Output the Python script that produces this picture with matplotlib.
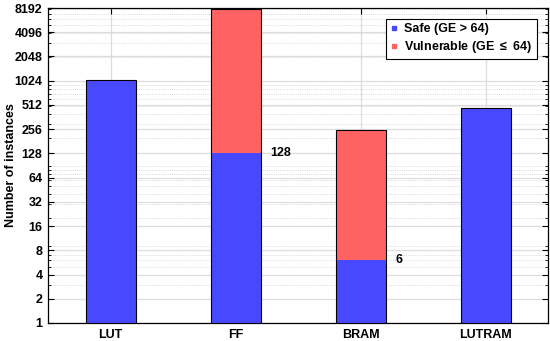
import matplotlib.pyplot as plt
from matplotlib.ticker import FixedLocator, LogLocator, NullFormatter
from matplotlib.lines import Line2D

plt.rcParams['font.family'] = ['Liberation Sans', 'DejaVu Sans']
plt.rcParams['font.weight'] = 'bold'
plt.rcParams['mathtext.fontset'] = 'custom'
plt.rcParams['mathtext.rm'] = 'Liberation Sans:bold'

cats = ['LUT', 'FF', 'BRAM', 'LUTRAM']
safe = [1056, 128, 6, 470]
vuln = [0, 7900, 244, 0]
notes = {1: '128', 2: '6'}

blue = '#4848FF'
red = '#FF6262'

fig = plt.figure(figsize=(5.5, 3.41), dpi=100)
ax = fig.add_axes([0.0873, 0.0528, 0.9091, 0.9237])

x = list(range(1, len(cats) + 1))
# safe part (blue) drawn from 1 upward, vulnerable part stacked on top
ax.bar(x, [s - 1 for s in safe], width=0.4, bottom=1, color=blue, edgecolor='none', zorder=3)
ax.bar(x, vuln, width=0.4, bottom=safe, color=red, edgecolor='none', zorder=3)
# outline of the whole stack
ax.bar(x, [s + v - 1 for s, v in zip(safe, vuln)], width=0.4, bottom=1, color='none',
       edgecolor='black', linewidth=0.8, zorder=4)

for i, t in notes.items():
    ax.text(x[i] + 0.28, safe[i], t, fontsize=9, fontweight='bold', va='center', ha='left')

ax.set_yscale('log', base=2)
ax.set_ylim(1, 8192)
ax.set_xlim(0.5, 4.5)
ax.yaxis.set_major_locator(FixedLocator([2 ** k for k in range(14)]))
ax.set_yticklabels([str(2 ** k) for k in range(14)])
ax.yaxis.set_minor_locator(LogLocator(base=10, subs=range(2, 10), numticks=20))
ax.yaxis.set_minor_formatter(NullFormatter())
ax.set_xticks(x)
ax.set_xticklabels(cats)

ax.grid(True, which='major', color='#dddddd', linewidth=0.9, zorder=0)
ax.grid(True, which='minor', axis='y', color='#cccccc', linestyle=':', linewidth=0.6, zorder=0)
ax.set_axisbelow(True)

ax.tick_params(which='both', direction='in', top=True, right=True, labelsize=9, pad=4)
ax.tick_params(which='major', length=4)
ax.tick_params(which='minor', length=2)
for s in ax.spines.values():
    s.set_linewidth(0.9)

ax.set_ylabel('Number of instances', fontsize=9, fontweight='bold')
ax.yaxis.set_label_coords(-0.062, 0.5)

handles = [Line2D([], [], marker='s', color=blue, linestyle='none', markersize=3),
           Line2D([], [], marker='s', color=red, linestyle='none', markersize=3)]
leg = ax.legend(handles, ['Safe (GE > 64)', r'Vulnerable (GE $\leq$ 64)'],
                loc='upper right', bbox_to_anchor=(0.99, 0.985), fontsize=9, handlelength=0.6,
                handletextpad=0.5, borderpad=0.35, labelspacing=0.3, fancybox=False, framealpha=1)
leg.get_frame().set_edgecolor('black')
leg.get_frame().set_linewidth(0.8)
leg.set_zorder(10)

fig.savefig('out.png', dpi=100)
